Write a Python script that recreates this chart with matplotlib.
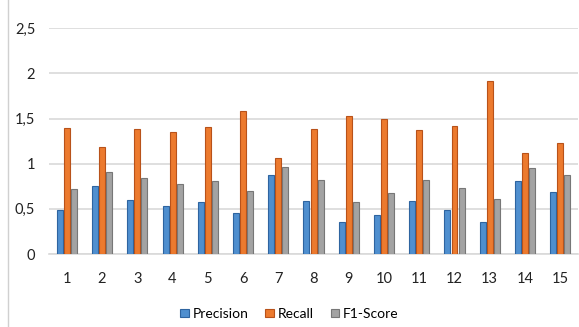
import numpy as np
import matplotlib
matplotlib.use("Agg")
import matplotlib.pyplot as plt
from matplotlib.lines import Line2D

categories = [str(i) for i in range(1, 16)]
precision = [0.49, 0.75, 0.60, 0.53, 0.58, 0.45, 0.87, 0.59, 0.36, 0.43, 0.59, 0.49, 0.36, 0.81, 0.69]
recall = [1.39, 1.18, 1.38, 1.35, 1.41, 1.58, 1.06, 1.38, 1.53, 1.49, 1.37, 1.42, 1.92, 1.12, 1.23]
f1 = [0.72, 0.91, 0.84, 0.77, 0.81, 0.70, 0.96, 0.82, 0.58, 0.68, 0.82, 0.73, 0.61, 0.95, 0.88]
yticks = [0, 0.5, 1, 1.5, 2, 2.5]
ytick_labels = ["0", "0,5", "1", "1,5", "2", "2,5"]

plt.rcParams['font.family'] = ['Lato', 'DejaVu Sans']

fig = plt.figure(figsize=(5.79, 3.27), dpi=100)
ax = fig.add_axes([0.085, 0.223, 0.913, 0.691])

x = np.arange(len(categories))
w = 0.17
step = 0.2
series = [
    (precision, "Precision", "#4f8fcf", "#2e64a0"),
    (recall, "Recall", "#ec7a2e", "#b8521a"),
    (f1, "F1-Score", "#a3a3a3", "#777777"),
]
for i, (vals, name, col, edge) in enumerate(series):
    ax.bar(x + (i - 1) * step, vals, w, color=col, edgecolor=edge,
           linewidth=0.8, label=name, zorder=3)

ax.set_xlim(-0.5, len(categories) - 0.5)
ax.set_ylim(0, 2.5)
ax.set_yticks(yticks)
ax.set_yticklabels(ytick_labels)
ax.set_xticks(x)
ax.set_xticklabels(categories)
ax.tick_params(axis='both', length=0, labelsize=10.5, colors="#222222")
ax.tick_params(axis='x', pad=13)
ax.tick_params(axis='y', pad=10)
ax.grid(axis='y', color="#d9d9d9", linewidth=1.2, zorder=0)
for s in ["top", "right", "left"]:
    ax.spines[s].set_visible(False)
ax.spines["bottom"].set_color("#d9d9d9")
ax.spines["bottom"].set_linewidth(1.2)

leg = fig.legend(loc="center", bbox_to_anchor=(0.5, 0.04), ncol=3, frameon=False,
                 fontsize=10, handlelength=0.6, handleheight=0.6,
                 handletextpad=0.3, columnspacing=1.2)

fig.add_artist(Line2D([8 / 579, 8 / 579], [0.0, 1.0], color="#d0d0d0", linewidth=1.0))

fig.savefig("out.png", dpi=100)
